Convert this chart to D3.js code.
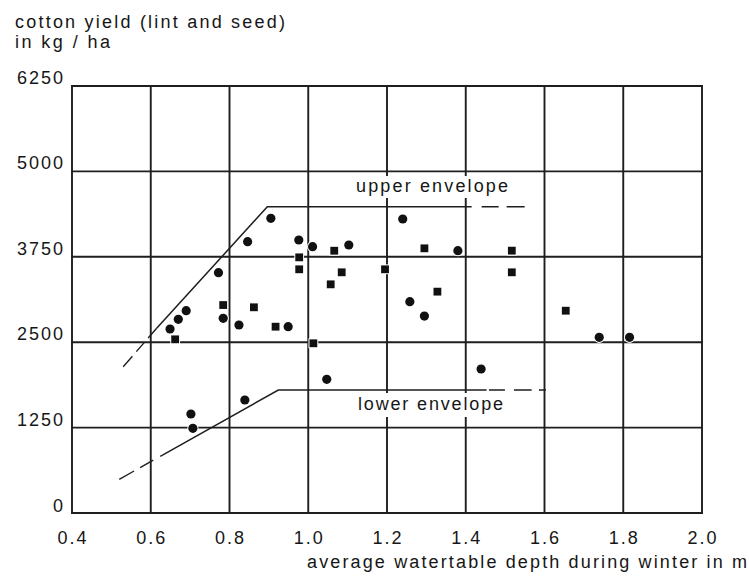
<!DOCTYPE html>
<html>
<head>
<meta charset="utf-8">
<script src="https://cdn.jsdelivr.net/npm/d3@7"></script>
<style>
  html, body { margin: 0; padding: 0; background: #fff; }
  svg { display: block; }
  text { font-family: "Liberation Sans", Arial, sans-serif; fill: #161616; }
</style>
</head>
<body>
<svg id="chart" width="749" height="581"></svg>
<script>
// ---- data ----
const xTicks = [0.4, 0.6, 0.8, 1.0, 1.2, 1.4, 1.6, 1.8, 2.0];
const xTickLabels = ["0.4", "0.6", "0.8", "1.0", "1.2", "1.4", "1.6", "1.8", "2.0"];
const yTicks = [0, 1250, 2500, 3750, 5000, 6250];
const yTickLabels = ["0", "1250", "2500", "3750", "5000", "6250"];

const roundDepth = [0.905, 0.846, 0.976, 1.011, 1.103, 0.772, 0.690, 0.670, 0.649, 0.784, 0.824, 0.949, 1.047, 1.240, 1.380, 1.258, 1.295, 1.739, 1.816, 1.439, 0.702, 0.707, 0.839];
const roundYield = [4313, 3971, 3996, 3898, 3923, 3518, 2961, 2835, 2693, 2850, 2752, 2727, 1957, 4303, 3840, 3093, 2883, 2572, 2572, 2108, 1449, 1240, 1654];

const squareDepth = [1.066, 0.977, 0.977, 1.085, 1.057, 0.662, 0.784, 0.862, 0.917, 1.013, 1.295, 1.517, 1.517, 1.195, 1.328, 1.654];
const squareYield = [3839, 3742, 3567, 3523, 3347, 2542, 3044, 3011, 2727, 2484, 3874, 3840, 3523, 3567, 3240, 2961];

// envelopes: [depth, yield]
const upperDashedLeft = [[0.530, 2141], [0.615, 2703]];
const upperSolid = [[0.615, 2703], [0.896, 4483], [1.415, 4483]];
const upperDashedRight = [[1.415, 4483], [1.550, 4483]];
const lowerDashedLeft = [[0.520, 493], [0.631, 852]];
const lowerSolid = [[0.631, 852], [0.924, 1800], [1.453, 1800]];
const lowerDashedRight = [[1.453, 1800], [1.604, 1800]];

const yTitleLines = ["cotton yield (lint and seed)", "in kg / ha"];
const xTitle = "average watertable depth during winter in m";
const upperLabel = "upper envelope";
const lowerLabel = "lower envelope";

// ---- drawing ----
const svg = d3.select("#chart");
const x = d3.scaleLinear().domain([0.4, 2.0]).range([72, 702]);
const y = d3.scaleLinear().domain([0, 6250]).range([513, 86]);
const ink = "#1e1e1e";
const fs = 18;

// grid
const g = svg.append("g");
g.selectAll("line.v").data(xTicks).join("line")
  .attr("x1", d => x(d)).attr("x2", d => x(d))
  .attr("y1", y(0) + 1).attr("y2", y(6250) - 1)
  .attr("stroke", ink).attr("stroke-width", 1.9);
g.selectAll("line.h").data(yTicks).join("line")
  .attr("y1", d => y(d)).attr("y2", d => y(d))
  .attr("x1", x(0.4) - 1).attr("x2", x(2.0) + 1)
  .attr("stroke", ink).attr("stroke-width", 1.9);

// tick labels
svg.append("g").selectAll("text").data(yTicks).join("text")
  .attr("x", 63 + 2).attr("y", d => y(d) - (d === 0 ? 1 : 2))
  .attr("text-anchor", "end")
  .attr("font-size", fs).attr("letter-spacing", 2)
  .text((d, i) => yTickLabels[i]);

svg.append("g").selectAll("text").data(xTicks).join("text")
  .attr("x", d => x(d) + 1).attr("y", 544)
  .attr("text-anchor", "middle")
  .attr("font-size", fs).attr("letter-spacing", 2)
  .text((d, i) => xTickLabels[i]);

// titles
svg.append("text").attr("x", 15).attr("y", 28).attr("font-size", fs)
  .attr("textLength", 270).attr("lengthAdjust", "spacing").text(yTitleLines[0]);
svg.append("text").attr("x", 15).attr("y", 48).attr("font-size", fs)
  .attr("textLength", 95).attr("lengthAdjust", "spacing").text(yTitleLines[1]);
svg.append("text").attr("x", 307).attr("y", 568).attr("font-size", fs)
  .attr("textLength", 440).attr("lengthAdjust", "spacing").text(xTitle);

// envelope labels with white backing
svg.append("rect").attr("x", 352).attr("y", 176).attr("width", 160).attr("height", 22).attr("fill", "#fff");
svg.append("text").attr("x", 356).attr("y", 192).attr("font-size", fs)
  .attr("textLength", 152).attr("lengthAdjust", "spacing").text(upperLabel);
svg.append("rect").attr("x", 354).attr("y", 393).attr("width", 153).attr("height", 24).attr("fill", "#fff");
svg.append("text").attr("x", 358).attr("y", 410).attr("font-size", fs)
  .attr("textLength", 145).attr("lengthAdjust", "spacing").text(lowerLabel);

// envelopes
const line = d3.line().x(d => x(d[0])).y(d => y(d[1]));
function env(data, dash, w) {
  svg.append("path").attr("d", line(data))
    .attr("fill", "none").attr("stroke", ink).attr("stroke-width", w)
    .attr("stroke-dasharray", dash);
}
env(upperDashedLeft, "14 6 12 6", 1.4);
env(upperSolid, null, 1.5);
env(upperDashedRight, "0 10 17 8 18 100", 1.6);
env(lowerDashedLeft, "17 7 15 8", 1.4);
env(lowerSolid, null, 1.5);
env(lowerDashedRight, "0 2.3 16 9 17.7 7.3 7 100", 1.6);

// points
svg.append("g").selectAll("circle").data(roundDepth).join("circle")
  .attr("cx", d => x(d)).attr("cy", (d, i) => y(roundYield[i]))
  .attr("r", 4.6).attr("fill", "#111")
  .attr("stroke", "#fff").attr("stroke-width", 2).attr("paint-order", "stroke");
svg.append("g").selectAll("rect").data(squareDepth).join("rect")
  .attr("x", d => x(d) - 3.9).attr("y", (d, i) => y(squareYield[i]) - 3.9)
  .attr("width", 7.8).attr("height", 7.8).attr("fill", "#111")
  .attr("stroke", "#fff").attr("stroke-width", 2).attr("paint-order", "stroke");
</script>
</body>
</html>
